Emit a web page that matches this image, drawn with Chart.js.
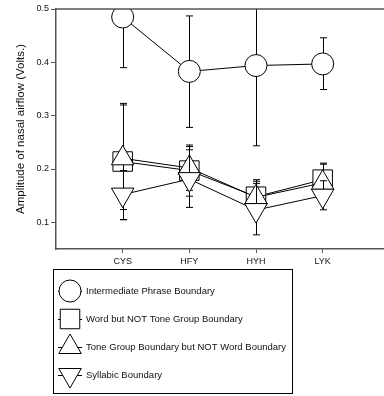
<!DOCTYPE html>
<html>
<head>
<meta charset="utf-8">
<script src="https://cdn.jsdelivr.net/npm/chart.js@4.4.0/dist/chart.umd.min.js"></script>
<style>
  html, body { margin: 0; padding: 0; background: #fff; }
  #wrap { width: 384px; height: 396px; }
</style>
</head>
<body>
<div id="wrap"><canvas id="airflow-chart" width="384" height="396"></canvas></div>
<script>
// Data (means and the ends of the error bars)
var categories = ['CYS', 'HFY', 'HYH', 'LYK'];
var yTicks = [0.1, 0.2, 0.3, 0.4, 0.5];
var seriesNames = [
    'Intermediate Phrase Boundary',
    'Word but NOT Tone Group Boundary',
    'Tone Group Boundary but NOT Word Boundary',
    'Syllabic Boundary'
];

var phraseMean = [0.485, 0.383, 0.394, 0.397];
var phraseHi   = [0.580, 0.487, 0.544, 0.446];
var phraseLo   = [0.390, 0.278, 0.2435, 0.349];

var wordMean = [0.214, 0.197, 0.148, 0.180];
var wordHi   = [0.323, 0.245, 0.180, 0.211];
var wordLo   = [0.105, 0.149, 0.116, 0.149];

var toneMean = [0.220, 0.202, 0.147, 0.174];
var toneHi   = [0.320, 0.242, 0.177, 0.209];
var toneLo   = [0.124, 0.160, 0.117, 0.139];

var syllMean = [0.152, 0.181, 0.123, 0.150];
var syllHi   = [0.197, 0.236, 0.173, 0.178];
var syllLo   = [0.105, 0.128, 0.0766, 0.1235];

var means = [phraseMean, wordMean, toneMean, syllMean];
var highs = [phraseHi, wordHi, toneHi, syllHi];
var lows  = [phraseLo, wordLo, toneLo, syllLo];

var markers = [
    { style: 'circle',   radius: 11,   rotation: 0 },
    { style: 'rect',     radius: 13.8, rotation: 0 },
    { style: 'triangle', radius: 13,   rotation: 0 },
    { style: 'triangle', radius: 13,   rotation: 180 }
];

var FONT = "'Liberation Sans', Arial, sans-serif";

function toPoints(arr) {
    return arr.map(function (v, i) { return { x: i + 1, y: v }; });
}

var datasets = [];
for (var k = 0; k < means.length; k++) {
    datasets.push({
        label: seriesNames[k],
        data: toPoints(means[k]),
        borderColor: '#000',
        borderWidth: 1,
        pointStyle: markers[k].style,
        pointRadius: markers[k].radius,
        pointRotation: markers[k].rotation,
        pointBackgroundColor: '#fff',
        pointBorderColor: '#000',
        pointBorderWidth: 1,
        fill: false,
        tension: 0,
        order: means.length - k   // later series on top, like the original
    });
}

// Error bars, drawn just before each series so its own markers cover them
var errorBars = {
    id: 'errorBars',
    beforeDatasetDraw: function (chart, args) {
        var ctx = chart.ctx;
        var area = chart.chartArea;
        var y = chart.scales.y;
        var meta = chart.getDatasetMeta(args.index);
        var hi = highs[args.index], lo = lows[args.index];
        ctx.save();
        ctx.strokeStyle = '#000';
        ctx.lineWidth = 1;
        meta.data.forEach(function (pt, i) {
            var x = Math.round(pt.x) + 0.5;
            var yh = y.getPixelForValue(hi[i]);
            var yl = y.getPixelForValue(lo[i]);
            var capHi = yh >= area.top;
            if (!capHi) yh = area.top;
            ctx.beginPath();
            ctx.moveTo(x, yh);
            ctx.lineTo(x, yl);
            if (capHi) { ctx.moveTo(x - 3.5, yh); ctx.lineTo(x + 3.5, yh); }
            ctx.moveTo(x - 3.5, yl); ctx.lineTo(x + 3.5, yl);
            ctx.stroke();
        });
        ctx.restore();
    }
};

function drawMarker(ctx, m, x, y) {
    var r = m.radius;
    ctx.beginPath();
    if (m.style === 'circle') {
        ctx.arc(x, y, r, 0, Math.PI * 2);
    } else if (m.style === 'rect') {
        var s = r * Math.SQRT1_2;
        ctx.rect(x - s, y - s, 2 * s, 2 * s);
    } else {
        var rad = m.rotation * Math.PI / 180;
        for (var j = 0; j < 3; j++) {
            var px = x + Math.sin(rad) * r, py = y - Math.cos(rad) * r;
            if (j === 0) ctx.moveTo(px, py); else ctx.lineTo(px, py);
            rad += 2 * Math.PI / 3;
        }
        ctx.closePath();
    }
    ctx.fill();
    ctx.stroke();
}

// Top frame line and the boxed legend under the plot
var frameAndLegend = {
    id: 'frameAndLegend',
    afterDraw: function (chart) {
        var ctx = chart.ctx;
        var area = chart.chartArea;
        ctx.save();
        ctx.strokeStyle = '#555';
        ctx.lineWidth = 1.5;
        ctx.beginPath();
        ctx.moveTo(area.left, area.top);
        ctx.lineTo(area.right, area.top);
        ctx.stroke();

        ctx.strokeStyle = '#000';
        ctx.lineWidth = 1;
        ctx.strokeRect(53.5, 269.5, 239, 124);

        var rows = [291, 319, 347, 375];
        ctx.font = '9.5px ' + FONT;
        ctx.textBaseline = 'middle';
        for (var i = 0; i < seriesNames.length; i++) {
            ctx.strokeStyle = '#000';
            ctx.beginPath();
            ctx.moveTo(58, rows[i] + 0.5);
            ctx.lineTo(82, rows[i] + 0.5);
            ctx.stroke();
            ctx.fillStyle = '#fff';
            drawMarker(ctx, markers[i], 70, rows[i]);
            ctx.fillStyle = '#111';
            ctx.fillText(seriesNames[i], 86, rows[i]);
        }
        ctx.restore();
    }
};

var axisGrid = {
    display: true,
    drawOnChartArea: false,
    drawTicks: true,
    tickLength: 4,
    color: '#555',
    lineWidth: 1
};

var config = {
    type: 'line',
    data: { datasets: datasets },
    options: {
        responsive: false,
        animation: false,
        layout: { autoPadding: false, padding: { top: 9, left: 0, right: 0, bottom: 0 } },
        plugins: {
            legend: { display: false },
            tooltip: { enabled: false }
        },
        scales: {
            x: {
                type: 'linear',
                min: 0,
                max: 4.92,
                afterBuildTicks: function (scale) {
                    scale.ticks = categories.map(function (c, i) { return { value: i + 1 }; });
                },
                afterFit: function (scale) { scale.height = 147; },
                ticks: {
                    padding: 3,
                    color: '#111',
                    font: { family: FONT, size: 9 },
                    callback: function (v) { return categories[v - 1]; }
                },
                grid: axisGrid,
                border: { display: true, color: '#555', width: 1.5 }
            },
            y: {
                min: 0.05,
                max: 0.5,
                afterBuildTicks: function (scale) {
                    scale.ticks = yTicks.map(function (v) { return { value: v }; });
                },
                afterFit: function (scale) { scale.width = 56; },
                ticks: {
                    padding: 2,
                    color: '#111',
                    font: { family: FONT, size: 9 },
                    callback: function (v) { return v.toFixed(1); }
                },
                grid: Object.assign({}, axisGrid, { tickLength: 5 }),
                border: { display: true, color: '#555', width: 1.5 },
                title: {
                    display: true,
                    text: 'Amplitude of nasal airflow (Volts.)',
                    color: '#111',
                    font: { family: FONT, size: 11.5 },
                    padding: { top: 14, bottom: 0 }
                }
            }
        }
    },
    plugins: [errorBars, frameAndLegend]
};

var airflowChart = new Chart(document.getElementById('airflow-chart'), config);
</script>
</body>
</html>
